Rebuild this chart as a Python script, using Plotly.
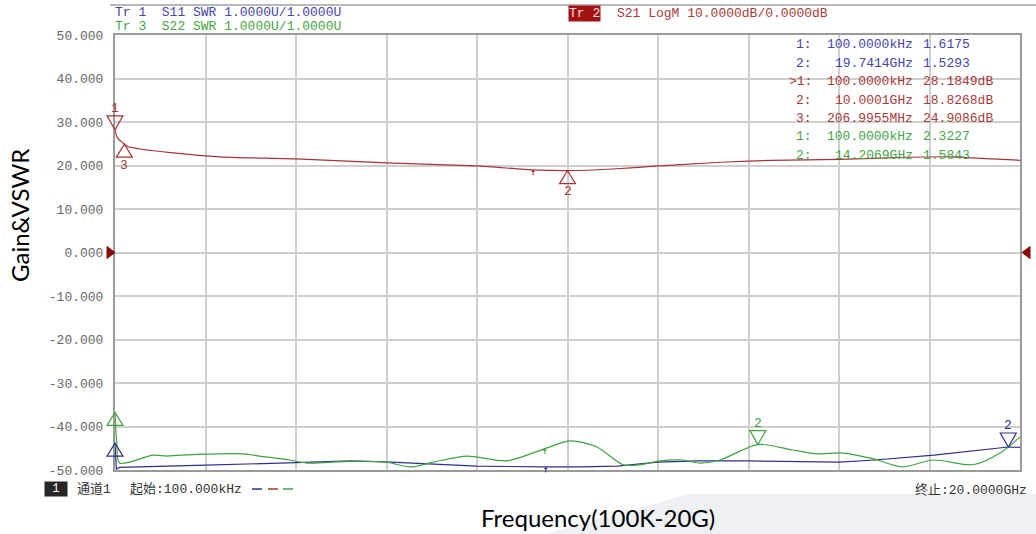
import numpy as np
import plotly.graph_objects as go

# ---- sweep data (frequency in GHz) ----
s21_freq = [0.0001, 0.05, 0.2070, 0.29, 0.55, 1.28, 2.3, 4.0, 6.0, 8.0, 9.24, 10.0, 11.0,
            12.0, 12.5, 13.5, 14.5, 16.0, 17.5, 18.5, 19.4, 20.0]
s21_db = [28.1849, 26.4, 24.9086, 24.3, 23.8, 22.9, 22.0, 21.5, 20.6, 19.9, 19.0, 18.8268, 19.2,
          19.9, 20.2, 20.8, 21.2, 21.4, 21.9, 22.0, 21.5, 21.2]

s11_freq = [0.0001, 0.03, 0.1, 1.0, 2.0, 4.0, 5.2, 6.1, 7.0, 8.0, 9.5, 10.3, 11.1, 12.0, 12.9,
            14.0, 16.0, 16.8, 18.1, 19.0, 19.7414, 20.0]
s11_swr = [1.6175, 1.02, 1.06, 1.09, 1.11, 1.17, 1.21, 1.18, 1.14, 1.09, 1.07, 1.07, 1.09, 1.18,
           1.21, 1.21, 1.18, 1.23, 1.34, 1.44, 1.5293, 1.52]

s22_freq = [0.0001, 0.04, 0.1, 0.84, 1.15, 1.44, 2.83, 3.2, 3.87, 4.24, 5.19, 6.0, 6.52, 7.03,
            7.78, 8.66, 9.55, 10.06, 10.65, 11.23, 11.6, 12.04, 12.55, 12.93, 13.37, 14.2069,
            14.98, 15.51, 16.09, 16.75, 17.4, 18.08, 18.96, 19.56, 20.0]
s22_swr = [2.3227, 1.6, 1.16, 1.34, 1.32, 1.34, 1.37, 1.32, 1.23, 1.16, 1.20, 1.18, 1.07, 1.18,
           1.32, 1.21, 1.51, 1.67, 1.53, 1.12, 1.12, 1.21, 1.23, 1.16, 1.23, 1.5843,
           1.46, 1.37, 1.39, 1.26, 1.07, 1.23, 1.12, 1.39, 1.76]

# ---- markers: (number, frequency in Hz, value) ----
s11_markers = [(1, 100e3, 1.6175), (2, 19.7414e9, 1.5293)]
s21_markers = [(1, 100e3, 28.1849), (2, 10.0001e9, 18.8268), (3, 206.9955e6, 24.9086)]
s22_markers = [(1, 100e3, 2.3227), (2, 14.2069e9, 1.5843)]

# small reference arrows placed on each trace (GHz)
s21_arrow_freq = [9.24]
s22_arrow_freq = [9.50]
s11_arrow_freq = [9.52]

y_ticks = [-50, -40, -30, -20, -10, 0, 10, 20, 30, 40, 50]
x_range = [0.0001, 20.0]

RED = "#a33434"
BLUE = "#2f2f8c"
GREEN = "#3da33d"
TXT_BLUE = "#4545a8"
TXT_RED = "#a83a3a"
TXT_GREEN = "#45a545"
MONO = "Liberation Mono, Noto Sans CJK SC, monospace"
SANS = "Lato, Open Sans, sans-serif"

W, H = 1036, 534
PL, PR, PT, PB = 115, 1020, 35, 470


def px(x):
    return (x - PL) / (PR - PL)


def py(y):
    return (PB - y) / (PB - PT)


def x_to_paper(ghz):
    return (ghz - x_range[0]) / (x_range[1] - x_range[0])


def fmt_freq(hz):
    if hz < 1e6:
        return f"{hz / 1e3:.4f}kHz"
    if hz < 1e9:
        return f"{hz / 1e6:.4f}MHz"
    return f"{hz / 1e9:.4f}GHz"


fig = go.Figure()
fig.add_trace(go.Scatter(x=s21_freq, y=s21_db, mode="lines",
                         line=dict(color=RED, width=1.2, shape="spline", smoothing=0.6),
                         yaxis="y", hoverinfo="skip"))
fig.add_trace(go.Scatter(x=s11_freq, y=s11_swr, mode="lines", line=dict(color=BLUE, width=1.2),
                         yaxis="y2", hoverinfo="skip"))
fig.add_trace(go.Scatter(x=s22_freq, y=s22_swr, mode="lines",
                         line=dict(color=GREEN, width=1.2, shape="spline", smoothing=0.8),
                         yaxis="y2", hoverinfo="skip"))

shapes = []
annotations = []


def text_at(x, y, s, color, anchor="left", size=13, family=MONO, **kw):
    d = dict(xref="paper", yref="paper", x=px(x), y=py(y), text=s, showarrow=False,
             xanchor=anchor, yanchor="middle", font=dict(family=family, size=size, color=color))
    d.update(kw)
    annotations.append(d)


# marker triangles: "down" = ▽ sitting above the point, "up" = △ hanging below it
def add_markers(markers, yref, color, styles):
    for (num, hz, val), (orient, show_num) in zip(markers, styles):
        ghz = max(hz / 1e9, x_range[0])
        if orient == "down":
            path = "M -8,14 L 8,14 L 0,0 Z"
            shift = 21
        else:
            path = "M -8,-13 L 8,-13 L 0,0 Z"
            shift = -21
        shapes.append(dict(type="path", xref="paper", yref=yref, xsizemode="pixel",
                           ysizemode="pixel", xanchor=x_to_paper(ghz), yanchor=val, path=path,
                           line=dict(color=color, width=1.2), fillcolor="rgba(0,0,0,0)"))
        if show_num:
            annotations.append(dict(xref="x", yref=yref, x=ghz, y=val, text=str(num),
                                    showarrow=False, yshift=shift, xanchor="center",
                                    yanchor="middle",
                                    font=dict(family=MONO, size=13, color=color)))


add_markers(s21_markers, "y", RED, [("down", True), ("up", True), ("up", True)])
add_markers(s11_markers, "y2", BLUE, [("up", False), ("down", True)])
add_markers(s22_markers, "y2", GREEN, [("up", False), ("down", True)])


def add_arrows(freqs, fx, fy, yref, color):
    for f in freqs:
        v = float(np.interp(f, fx, fy))
        annotations.append(dict(xref="x", yref=yref, x=f, y=v, text="", showarrow=True,
                                ax=0, ay=7, arrowhead=1, arrowsize=0.7, arrowwidth=1,
                                arrowcolor=color, standoff=0))


add_arrows(s21_arrow_freq, s21_freq, s21_db, "y", RED)
add_arrows(s22_arrow_freq, s22_freq, s22_swr, "y2", GREEN)
add_arrows(s11_arrow_freq, s11_freq, s11_swr, "y2", BLUE)

# reference level pointers at 0 dB on both sides
shapes.append(dict(type="path", xref="paper", yref="y", xsizemode="pixel", ysizemode="pixel",
                   xanchor=0, yanchor=0, path="M -8,6 L 0,0 L -8,-6 Z",
                   line=dict(color="#8b0a0a", width=1), fillcolor="#8b0a0a"))
shapes.append(dict(type="path", xref="paper", yref="y", xsizemode="pixel", ysizemode="pixel",
                   xanchor=1, yanchor=0, path="M 10,6 L 2,0 L 10,-6 Z",
                   line=dict(color="#8b0a0a", width=1), fillcolor="#8b0a0a"))

# header rule
shapes.append(dict(type="line", xref="paper", yref="paper", x0=px(110), x1=px(1036),
                   y0=py(5), y1=py(5), line=dict(color="#a0a0a0", width=1.5)))

# pale band in the lower right corner
shapes.append(dict(type="path", xref="paper", yref="paper", layer="below",
                   path=f"M {px(545)},{py(534)} L {px(690)},{py(494)} L {px(1036)},{py(494)} "
                        f"L {px(1036)},{py(534)} Z",
                   line=dict(width=0), fillcolor="#eef0f4"))

# header lines
text_at(113, 12, "Tr 1  S11 SWR 1.0000U/1.0000U", TXT_BLUE)
text_at(113, 27, "Tr 3  S22 SWR 1.0000U/1.0000U", TXT_GREEN)
text_at(568, 14, "Tr 2", "#f3dede", bgcolor="#a31212", borderpad=0)
text_at(615, 14, "S21 LogM 10.0000dB/0.0000dB", TXT_RED)

# marker readout table
rows = []
for num, hz, val in s11_markers:
    rows.append((f"{num}:", fmt_freq(hz), f"{val:.4f}", TXT_BLUE))
for num, hz, val in s21_markers:
    rows.append(((">" if num == 1 else "") + f"{num}:", fmt_freq(hz), f"{val:.4f}dB", TXT_RED))
for num, hz, val in s22_markers:
    rows.append((f"{num}:", fmt_freq(hz), f"{val:.4f}", TXT_GREEN))
row_y = [45, 63.3, 81.7, 100, 118.3, 136.7, 155]
for (idx, fq, vv, col), yy in zip(rows, row_y):
    text_at(814, yy, idx, col, anchor="right")
    text_at(915, yy, fq, col, anchor="right")
    text_at(921, yy, vv, col, anchor="left")

# channel status line
text_at(44, 489, " 1 ", "#ffffff", bgcolor="#262626", borderpad=0, size=12)
text_at(75, 489, "通道1", "#333333")
text_at(128, 489, "起始:100.000kHz", "#333333")
for x0, col in [(252, BLUE), (268, RED), (283, GREEN)]:
    shapes.append(dict(type="line", xref="paper", yref="paper", x0=px(x0), x1=px(x0 + 10),
                       y0=py(489), y1=py(489), line=dict(color=col, width=1.5)))
text_at(1029, 490, "终止:20.0000GHz", "#333333", anchor="right")

# axis titles
text_at(19, 216, "Gain&VSWR", "#000000", anchor="center", size=24, family=SANS, textangle=-90)
text_at(598, 517, "Frequency(100K-20G)", "#000000", anchor="center", size=24, family=SANS)

fig.update_layout(
    width=W, height=H,
    margin=dict(l=PL, r=W - PR, t=PT, b=H - PB, pad=0),
    paper_bgcolor="white", plot_bgcolor="white",
    showlegend=False,
    xaxis=dict(range=x_range, dtick=2, tick0=0, showticklabels=False, ticks="",
               showgrid=True, gridcolor="#cfcfcf", gridwidth=1.5, zeroline=False,
               showline=True, linecolor="#9a9a9a", linewidth=2, mirror=True),
    yaxis=dict(range=[-50, 50], tickvals=y_ticks, ticktext=[f"{v:.3f}" for v in y_ticks],
               tickfont=dict(family=MONO, size=13, color="#666666"), ticks="",
               ticklabelstandoff=7,
               showgrid=True, gridcolor="#cfcfcf", gridwidth=1.5, zeroline=False,
               showline=True, linecolor="#9a9a9a", linewidth=2, mirror=True),
    yaxis2=dict(range=[1, 11], overlaying="y", visible=False, showgrid=False, zeroline=False),
    shapes=shapes,
    annotations=annotations,
)

fig.write_html("out.html")
